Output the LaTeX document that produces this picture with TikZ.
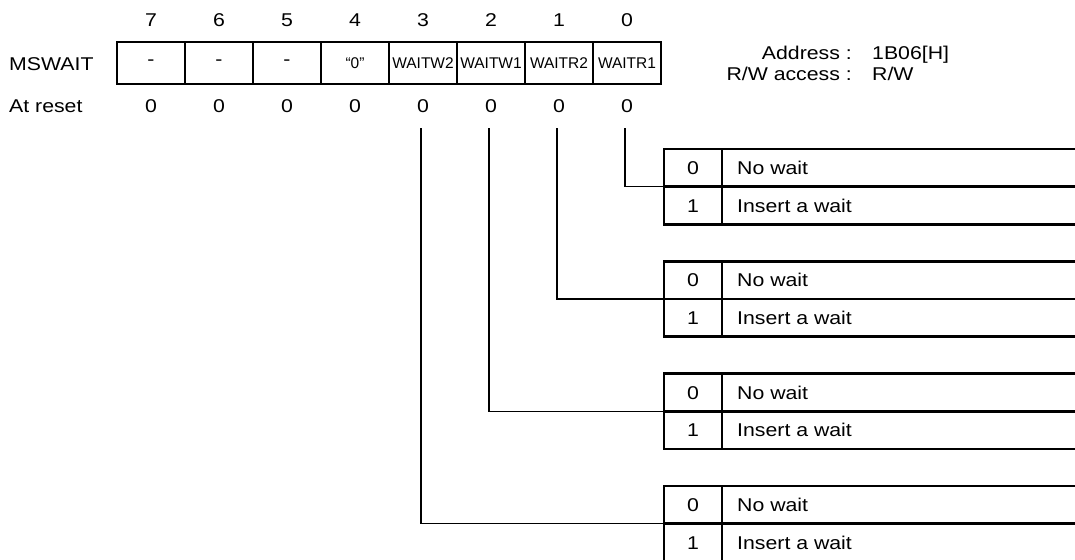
\documentclass[tikz,border=0pt]{standalone}
\usepackage{fontspec}
\setmainfont{Liberation Sans}[FakeStretch=1.15]
\newfontfamily\cellfont{Liberation Sans}
\begin{document}
\begin{tikzpicture}[x=1pt,y=-1pt,
  txt/.style={font=\fontsize{18.5}{20}\selectfont, inner sep=0pt, anchor=base},
  regcell/.style={draw, line width=2pt, minimum width=68pt, minimum height=42pt, inner sep=0pt,
    font=\cellfont\fontsize{15.5}{17}\selectfont},
  dashcell/.style={regcell, font=\fontsize{18.5}{20}\selectfont},
  tbl/.style={line width=2.5pt},
  conn/.style={line width=1.3pt}]
\clip (0,0) rectangle (1075,559);
% register cells
\node[dashcell] (b7) at (151,63) {-};
\node[dashcell] (b6) at (219,63) {-};
\node[dashcell] (b5) at (287,63) {-};
\node[regcell] (b4) at (355,63) {“0”};
\node[regcell] (b3) at (423,63) {WAITW2};
\node[regcell] (b2) at (491,63) {WAITW1};
\node[regcell] (b1) at (559,63) {WAITR2};
\node[regcell] (b0) at (627,63) {WAITR1};
% bit numbers and reset values
\foreach \i/\x in {7/151,6/219,5/287,4/355,3/423,2/491,1/559,0/627} {
  \node[txt] (n\i) at (\x,26.5) {\i};
  \node[txt] (r\i) at (\x,112.5) {0};
}
% labels
\node[txt, anchor=base west] (lname) at (9,70.5) {MSWAIT};
\node[txt, anchor=base west] (lreset) at (9,112.5) {At reset};
\node[txt, anchor=base east] (laddr) at (852,59.5) {Address :};
\node[txt, anchor=base west] (vaddr) at (872,59.5) {1B06[H]};
\node[txt, anchor=base east] (lrw) at (852,81) {R/W access :};
\node[txt, anchor=base west] (vrw) at (872,81) {R/W};
% tables and connectors
\foreach \k/\bx in {0/625,1/557,2/489,3/421} {
  \pgfmathsetmacro\yt{149+112.3*\k}
  \pgfmathsetmacro\ym{\yt+37.7}
  \pgfmathsetmacro\yb{\yt+75.4}
  \draw[tbl] (664,\yt) rectangle (1095,\yb);
  \draw[tbl] (664,\ym) -- (1095,\ym);
  \draw[tbl] (722,\yt) -- (722,\yb);
  \node[txt] (v0\k) at (693,\yt+25.5) {0};
  \node[txt, anchor=base west] (d0\k) at (737,\yt+25.5) {No wait};
  \node[txt] (v1\k) at (693,\ym+25.5) {1};
  \node[txt, anchor=base west] (d1\k) at (737,\ym+25.5) {Insert a wait};
  \coordinate (m\k) at (664,\ym);
  \coordinate (s\k) at (\bx,128);
  \draw[conn] (s\k) |- (m\k);
}
\end{tikzpicture}
\end{document}
